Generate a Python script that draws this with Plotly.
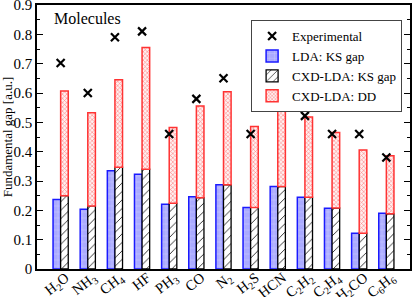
import plotly.graph_objects as go

molecules = ["H<sub>2</sub>O", "NH<sub>3</sub>", "CH<sub>4</sub>", "HF", "PH<sub>3</sub>", "CO",
             "N<sub>2</sub>", "H<sub>2</sub>S", "HCN", "C<sub>2</sub>H<sub>2</sub>",
             "C<sub>2</sub>H<sub>4</sub>", "H<sub>2</sub>CO", "C<sub>6</sub>H<sub>6</sub>"]
lda_ks = [0.237, 0.204, 0.335, 0.323, 0.221, 0.246, 0.287, 0.210, 0.281, 0.245, 0.207, 0.122, 0.190]
cxd_ks = [0.250, 0.215, 0.347, 0.340, 0.224, 0.243, 0.287, 0.210, 0.281, 0.245, 0.208, 0.122, 0.188]
cxd_total = [0.607, 0.533, 0.645, 0.755, 0.482, 0.556, 0.604, 0.486, 0.577, 0.518, 0.465, 0.406, 0.386]
experimental = [0.702, 0.600, 0.790, 0.810, 0.460, 0.580, 0.650, 0.460, 0.583, 0.522, 0.460, 0.460, 0.380]
y_ticks = [0, 0.1, 0.2, 0.3, 0.4, 0.5, 0.6, 0.7, 0.8, 0.9]

dd = [t - k for t, k in zip(cxd_total, cxd_ks)]
W = 0.28
FONT = "Liberation Serif, serif"

fig = go.Figure()
fig.add_trace(go.Scatter(
    x=molecules, y=experimental, mode="markers", name="Experimental",
    marker=dict(symbol="x-thin", size=8, color="black", line=dict(color="black", width=2.2)),
))
fig.add_trace(go.Bar(
    x=molecules, y=lda_ks, name="LDA: KS gap", width=W, offset=-W,
    marker=dict(color="#a8a8ff", line=dict(color="#1a1aff", width=1.5),
                pattern=dict(shape="+", fgcolor="#d0d0ff", bgcolor="#aaaaff", size=6, solidity=0.12, fillmode="replace")),
))
fig.add_trace(go.Bar(
    x=molecules, y=cxd_ks, name="CXD-LDA: KS gap", width=W, offset=0,
    marker=dict(color="white", line=dict(color="black", width=1.3),
                pattern=dict(shape="/", fgcolor="#222", bgcolor="white", size=6, solidity=0.15, fillmode="replace")),
))
fig.add_trace(go.Bar(
    x=molecules, y=dd, base=cxd_ks, name="CXD-LDA: DD", width=W, offset=0,
    marker=dict(color="white", line=dict(color="#ff3333", width=1.5),
                pattern=dict(shape="x", fgcolor="#ff8080", bgcolor="#fff0f0", size=3, solidity=0.35, fillmode="replace")),
))

fig.update_layout(
    width=415, height=297,
    margin=dict(l=37, r=5, t=5, b=28),
    barmode="overlay",
    paper_bgcolor="white", plot_bgcolor="white",
    font=dict(family=FONT, color="black", size=14),
    showlegend=True,
    legend=dict(x=0.574, y=0.943, xanchor="left", yanchor="top",
                bordercolor="#444", borderwidth=1, bgcolor="white",
                font=dict(family=FONT, size=13), tracegroupgap=0,
                itemwidth=30, traceorder="normal"),
    annotations=[dict(text="Molecules", xref="paper", yref="paper", x=0.04, y=0.99,
                      xanchor="left", yanchor="top", showarrow=False,
                      font=dict(family=FONT, size=16))],
)
fig.update_xaxes(
    showline=True, linecolor="black", linewidth=1.5, mirror=True,
    ticks="", tickangle=-38, tickfont=dict(family=FONT, size=14.5),
    ticklabelstandoff=-7, ticklabelshift=5,
    showgrid=False, automargin=False,
)
fig.update_yaxes(
    range=[0, 0.9], tickvals=y_ticks, ticktext=[("%g" % v) for v in y_ticks],
    showline=True, linecolor="black", linewidth=1.5, mirror="ticks",
    ticks="inside", ticklen=6, tickcolor="black",
    minor=dict(ticks="inside", ticklen=3, dtick=0.05, tickcolor="black", showgrid=False),
    showgrid=False, zeroline=False, automargin=False, ticklabeloverflow="allow",
    tickfont=dict(family=FONT, size=15),
    title=dict(text="Fundamental gap [a.u.]", font=dict(family=FONT, size=13)),
)

fig.write_html("out.html", config={"displayModeBar": False},
               post_script="document.body.style.margin='0px';document.body.style.overflow='hidden';")
